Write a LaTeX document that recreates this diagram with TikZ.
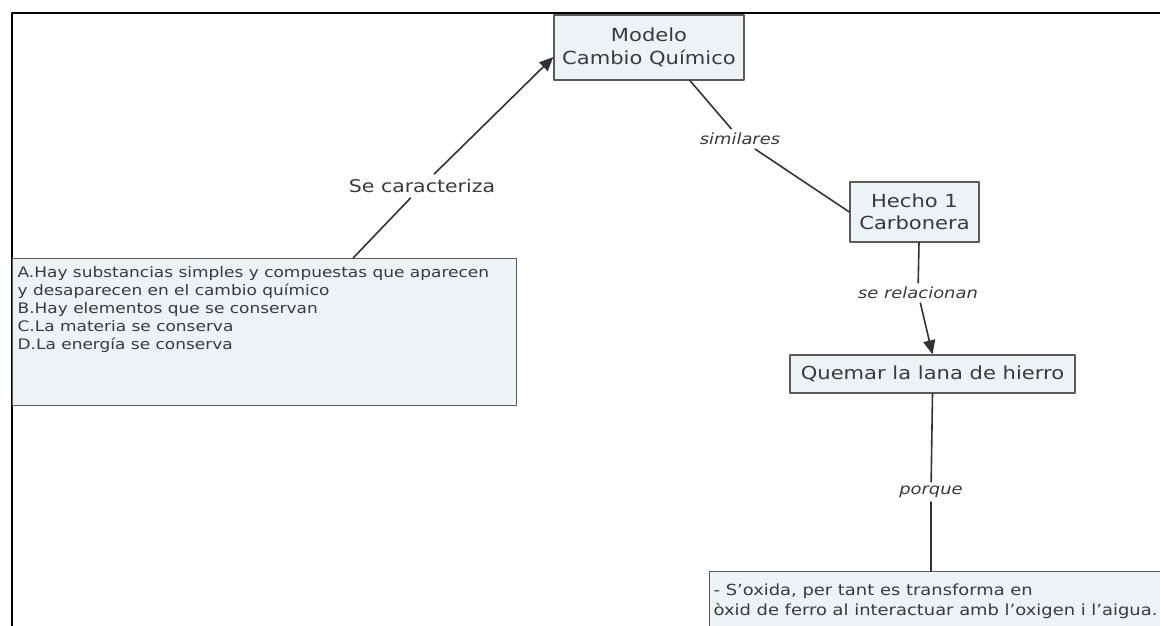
\documentclass[tikz,border=0pt]{standalone}
\usepackage{fontspec}
\setmainfont[FakeStretch=1.17]{DejaVu Sans}
\usetikzlibrary{arrows.meta}

\definecolor{boxfill}{HTML}{EDF2F7}
\definecolor{boxline}{HTML}{5A5A5A}
\definecolor{txtgray}{HTML}{3A3A3A}
\definecolor{linkgray}{HTML}{333333}

\begin{document}
\begin{tikzpicture}[x=1pt, y=-1pt, line cap=round, line join=round,
  concept/.style={draw=boxline, fill=boxfill, line width=1.3pt, text=txtgray,
    align=center, inner sep=3pt, font=\fontsize{18}{22.5}\selectfont},
  linklabel/.style={text=txtgray, font=\fontsize{15.3}{18}\selectfont\itshape, inner sep=4pt},
  link/.style={draw=linkgray, line width=1.6pt},
  tip/.style={-{Triangle[length=14pt,width=12pt]}}]
  % page and frame
  \useasboundingbox (0,0) rectangle (1160,626);
  \fill[white] (0,0) rectangle (1160,626);
  \draw[line width=2.4pt, line cap=butt] (1160,13) -- (12,13) -- (12,626);

  \begin{scope}
    \clip (0,0) rectangle (1160,626);
    % concepts
    \node[concept, minimum width=190pt, minimum height=65pt] (modelo) at (649,47.5) {Modelo\\Cambio Químico};
    \node[concept, minimum width=129pt, minimum height=60pt] (hecho) at (914.5,212) {Hecho 1\\Carbonera};
    \node[concept, minimum width=285pt, minimum height=38pt] (quemar) at (932.5,374) {Quemar la lana de hierro};
    \node[concept, anchor=north west, align=left, inner xsep=5pt, inner ysep=8pt,
      font=\fontsize{14.5}{18}\selectfont] (rasgos) at (12,258)
      {\parbox[t][131pt][t]{494pt}{A.Hay substancias simples y compuestas que aparecen\\
        y desaparecen en el cambio químico\\
        B.Hay elementos que se conservan\\
        C.La materia se conserva\\
        D.La energía se conserva}};
    \node[concept, anchor=north west, align=left, inner xsep=4pt, inner ysep=12pt,
      font=\fontsize{15.3}{20}\selectfont] (oxida) at (709,571)
      {\parbox[t][60pt][t]{470pt}{- S’oxida, per tant es transforma en\\
        òxid de ferro al interactuar amb l’oxigen i l’aigua.}};

    % link labels
    \node[text=txtgray, font=\fontsize{17.5}{20}\selectfont, inner sep=5pt] (caract) at (422,186) {Se caracteriza};
    \node[linklabel] (simil) at (740,139) {similares};
    \node[linklabel] (relac) at (918,293) {se relacionan};
    \node[linklabel] (porque) at (931,492) {porque};

    % connectors
    \draw[link] ([xshift=88.5pt]rasgos.north) -- (caract);
    \draw[link, tip] (caract) -- ([yshift=-9.5pt]modelo.west);
    \draw[link] ([xshift=41pt]modelo.south) -- (simil);
    \draw[link] (simil) -- (hecho.west);
    \draw[link] ([xshift=4.5pt]hecho.south) -- (relac);
    \draw[link, tip] (relac) -- (quemar.north);
    \draw[link] (quemar.south) -- (porque);
    \draw[link] (porque) -- (oxida.north -| porque);
  \end{scope}
\end{tikzpicture}
\end{document}
